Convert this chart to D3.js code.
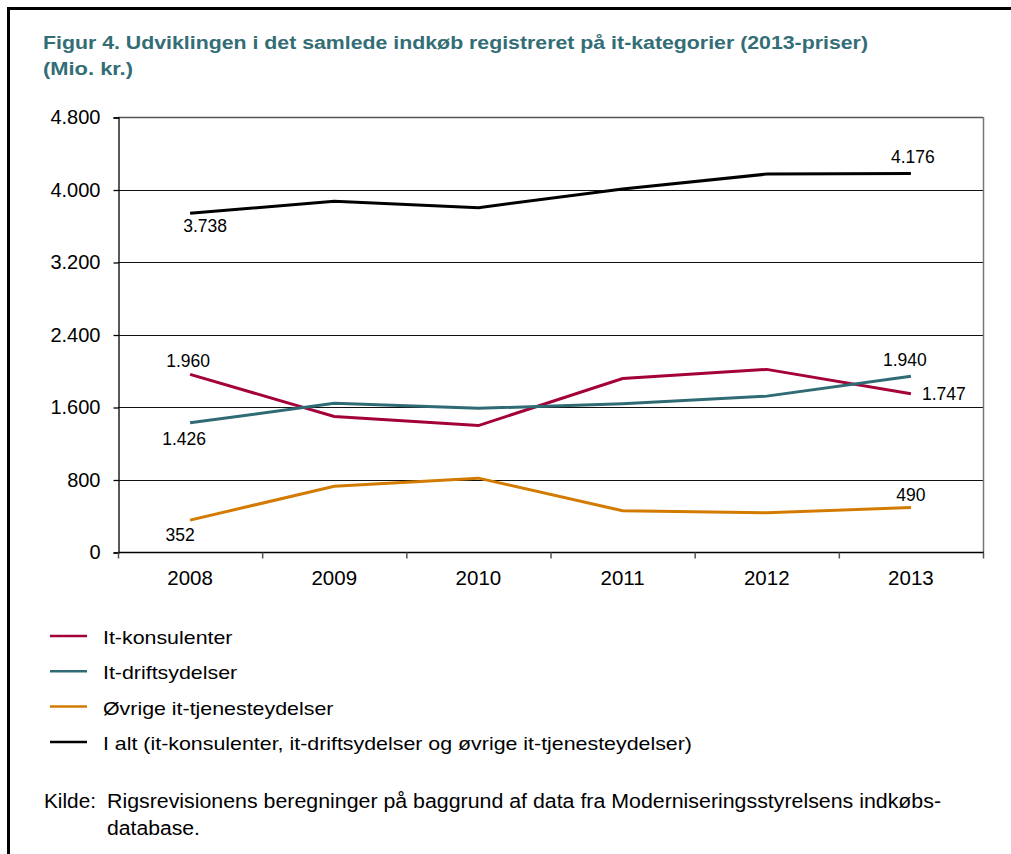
<!DOCTYPE html>
<html>
<head>
<meta charset="utf-8">
<script src="https://cdn.jsdelivr.net/npm/d3@7"></script>
<style>
body { margin: 0; background: #fff; }
#chart { width: 1011px; height: 854px; }
text { font-family: "Liberation Sans", Arial, sans-serif; }
</style>
</head>
<body>
<div id="chart"></div>
<script>
var years = ['2008', '2009', '2010', '2011', '2012', '2013'];
var konsulenter = [1960, 1495, 1395, 1915, 2015, 1747];
var drift = [1426, 1640, 1585, 1635, 1720, 1940];
var oevrige = [352, 725, 815, 455, 432, 490];
var iAlt = [3738, 3870, 3800, 4005, 4170, 4176];
var yTicks = [0, 800, 1600, 2400, 3200, 4000, 4800];
var seriesNames = ['It-konsulenter', 'It-driftsydelser', 'Øvrige it-tjenesteydelser',
	'I alt (it-konsulenter, it-driftsydelser og øvrige it-tjenesteydelser)'];
var seriesColors = ['#a4003a', '#2f6b74', '#d27b00', '#000'];

var width = 1011, height = 854;
var plotLeft = 118, plotRight = 983, plotTop = 117, plotBottom = 552;

var svg = d3.select('#chart')
	.append('svg')
	.attr('width', width)
	.attr('height', height);

// stretch a text horizontally so it spans the given width
function fitWidth(sel, w) {
	sel.each(function() {
		this.setAttribute('textLength', w);
		this.setAttribute('lengthAdjust', 'spacingAndGlyphs');
	});
}

// frame of the figure
svg.append('line').attr('x1', 8).attr('x2', width).attr('y1', 8.5).attr('y2', 8.5)
	.style('stroke', '#000').style('stroke-width', 3);
svg.append('line').attr('x1', 8.5).attr('x2', 8.5).attr('y1', 7).attr('y2', height)
	.style('stroke', '#000').style('stroke-width', 3);

var title = svg.append('g')
	.style('font-size', '18px')
	.style('font-weight', 'bold')
	.style('fill', '#336e76');
title.append('text').attr('x', 43).attr('y', 49)
	.text('Figur 4. Udviklingen i det samlede indkøb registreret på it-kategorier (2013-priser)')
	.call(fitWidth, 825);
title.append('text').attr('x', 43).attr('y', 75).text('(Mio. kr.)')
	.call(fitWidth, 90);

var x = d3.scaleBand().domain(years).range([plotLeft, plotRight]);
var y = d3.scaleLinear().domain([0, 4800]).range([plotBottom, plotTop]);

// gridlines
svg.append('g').selectAll('line').data(yTicks.slice(1)).enter().append('line')
	.attr('x1', plotLeft).attr('x2', plotRight)
	.attr('y1', function(d) { return Math.round(y(d)) + 0.5; })
	.attr('y2', function(d) { return Math.round(y(d)) + 0.5; })
	.style('stroke', function(d) { return d == 4800 ? '#555' : '#111'; })
	.style('stroke-width', function(d) { return d == 4800 ? 1.5 : 1; });

svg.append('line').attr('x1', plotRight + 0.5).attr('x2', plotRight + 0.5)
	.attr('y1', plotTop).attr('y2', plotBottom)
	.style('stroke', '#777').style('stroke-width', 1.5);

var yAxis = svg.append('g')
	.attr('transform', 'translate(' + (plotLeft + 0.5) + ',0.5)')
	.call(d3.axisLeft(y).tickValues(yTicks).tickSize(5).tickPadding(13)
		.tickFormat(function(d) { return d3.format(',')(d).replace(/,/g, '.'); }));
yAxis.selectAll('text').style('font-size', '20px').style('fill', '#000')
	.style('font-family', '"Liberation Sans", Arial, sans-serif');
yAxis.selectAll('line, path').style('stroke', '#000').style('stroke-width', 1.3);

var xAxis = svg.append('g')
	.attr('transform', 'translate(0,' + (plotBottom + 0.5) + ')');
xAxis.append('line').attr('x1', plotLeft).attr('x2', plotRight + 1)
	.style('stroke', '#000').style('stroke-width', 1.5);
xAxis.selectAll('.tk').data(years.concat(['end'])).enter().append('line')
	.attr('x1', function(d, i) { return i < years.length ? x(d) + 0.5 : plotRight + 0.5; })
	.attr('x2', function(d, i) { return i < years.length ? x(d) + 0.5 : plotRight + 0.5; })
	.attr('y1', 0).attr('y2', 6).style('stroke', '#555').style('stroke-width', 1.5);
xAxis.selectAll('text').data(years).enter().append('text')
	.attr('x', function(d) { return x(d) + x.bandwidth() / 2; })
	.attr('y', 32.5)
	.attr('text-anchor', 'middle')
	.style('font-size', '20.5px')
	.text(function(d) { return d; });

var allSeries = [konsulenter, drift, oevrige, iAlt];
var line = d3.line()
	.x(function(d, i) { return x(years[i]) + x.bandwidth() / 2; })
	.y(function(d) { return y(d); });

svg.append('g').selectAll('path').data(allSeries).enter().append('path')
	.attr('d', line)
	.style('fill', 'none')
	.style('stroke', function(d, i) { return seriesColors[i]; })
	.style('stroke-width', 3);

// value labels at first and last year
var fmt = function(v) { return d3.format(',')(v).replace(/,/g, '.'); };
var labels = [
	{ s: 0, i: 0, dx: -2, dy: -7 },
	{ s: 0, i: 5, dx: 11, dy: 6 },
	{ s: 1, i: 0, dx: -6, dy: 22 },
	{ s: 1, i: 5, dx: -6, dy: -10 },
	{ s: 2, i: 0, dx: -10, dy: 20.5 },
	{ s: 2, i: 5, dx: 0, dy: -7 },
	{ s: 3, i: 0, dx: 15, dy: 18.5 },
	{ s: 3, i: 5, dx: 2, dy: -11 }
];
svg.append('g').selectAll('text').data(labels).enter().append('text')
	.attr('x', function(d) { return x(years[d.i]) + x.bandwidth() / 2 + d.dx; })
	.attr('y', function(d) { return y(allSeries[d.s][d.i]) + d.dy; })
	.attr('text-anchor', function(d) { return d.dx > 10 && d.i == 5 ? 'start' : 'middle'; })
	.style('font-size', '17.5px')
	.text(function(d) { return fmt(allSeries[d.s][d.i]); });

// legend
var legend = svg.append('g').selectAll('g').data(seriesNames).enter().append('g')
	.attr('transform', function(d, i) { return 'translate(50,' + (636 + i * 35.3) + ')'; });
legend.append('line').attr('x1', 0).attr('x2', 37)
	.style('stroke', function(d, i) { return seriesColors[i]; })
	.style('stroke-width', 2.5);
var legendText = legend.append('text').attr('x', 53).attr('y', 8)
	.style('font-size', '18.5px')
	.text(function(d) { return d; });
// same horizontal stretch for every legend entry, set by the longest one
var longest = legendText.nodes()[3];
var legendScale = 589 / longest.getComputedTextLength();
legendText.each(function() {
	d3.select(this).call(fitWidth, this.getComputedTextLength() * legendScale);
});

var src = svg.append('g').style('font-size', '20px');
src.append('text').attr('x', 44).attr('y', 808).text('Kilde:').call(fitWidth, 52);
src.append('text').attr('x', 107).attr('y', 808)
	.text('Rigsrevisionens beregninger på baggrund af data fra Moderniseringsstyrelsens indkøbs-')
	.call(fitWidth, 834);
src.append('text').attr('x', 107).attr('y', 835).text('database.').call(fitWidth, 93);
</script>
</body>
</html>
